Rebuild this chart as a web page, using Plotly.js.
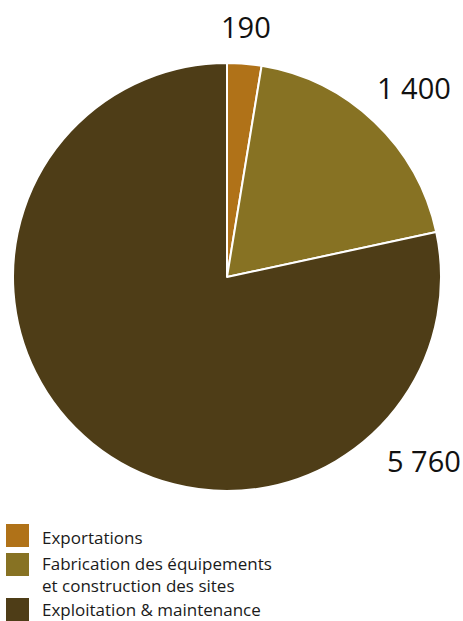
<!DOCTYPE html>
<html><head><meta charset="utf-8">
<script src="https://cdn.plot.ly/plotly-3.0.1.min.js"></script>
<style>html,body{margin:0;padding:0;background:#fff}#chart{width:463px;height:621px}</style>
</head><body><div id="chart"></div>
<script>
const categories = ["Exportations", "Fabrication des équipements<br>et construction des sites", "Exploitation & maintenance"];
const values = [190, 1400, 5760];
const colors = ["#B07218", "#877223", "#4E3D17"];
const labelPos = [[246, 27], [414, 88], [424, 460]];   // label centers in px
const legendRows = [[524, 537], [553, 574], [598, 609]]; // square top, text center y

const W = 463, H = 621;
function fmt(v){ return String(v).replace(/\B(?=(\d{3})+(?!\d))/g, " "); }
const FONT = "Open Sans, Noto Sans, sans-serif";

const annotations = values.map((v, i) => ({
  xref: "paper", yref: "paper", x: labelPos[i][0] / W, y: 1 - labelPos[i][1] / H,
  xanchor: "center", yanchor: "middle", showarrow: false,
  text: fmt(v), font: {family: FONT, size: 29, color: "#111"}
}));
const shapes = [];
categories.forEach((c, i) => {
  const top = legendRows[i][0];
  shapes.push({type: "rect", xref: "paper", yref: "paper",
    x0: 6 / W, x1: 29 / W, y0: 1 - (top + 23) / H, y1: 1 - top / H,
    fillcolor: colors[i], line: {width: 0}});
  annotations.push({xref: "paper", yref: "paper", x: 40 / W,
    y: 1 - legendRows[i][1] / H,
    xanchor: "left", yanchor: "middle", align: "left", showarrow: false,
    text: c, font: {family: FONT, size: 17, color: "#1a1a1a"}});
});

Plotly.newPlot("chart", [{
  type: "pie", labels: categories, values: values, sort: false,
  direction: "clockwise", rotation: 0, textinfo: "none", hoverinfo: "none",
  marker: {colors: colors, line: {color: "#fff", width: 2}},
  domain: {x: [13 / W, 441 / W], y: [1 - 491 / H, 1 - 63 / H]}
}], {
  width: W, height: H, margin: {l: 0, r: 0, t: 0, b: 0},
  paper_bgcolor: "#fff", showlegend: false,
  annotations: annotations, shapes: shapes
}, {displayModeBar: false, staticPlot: true});
</script></body></html>
